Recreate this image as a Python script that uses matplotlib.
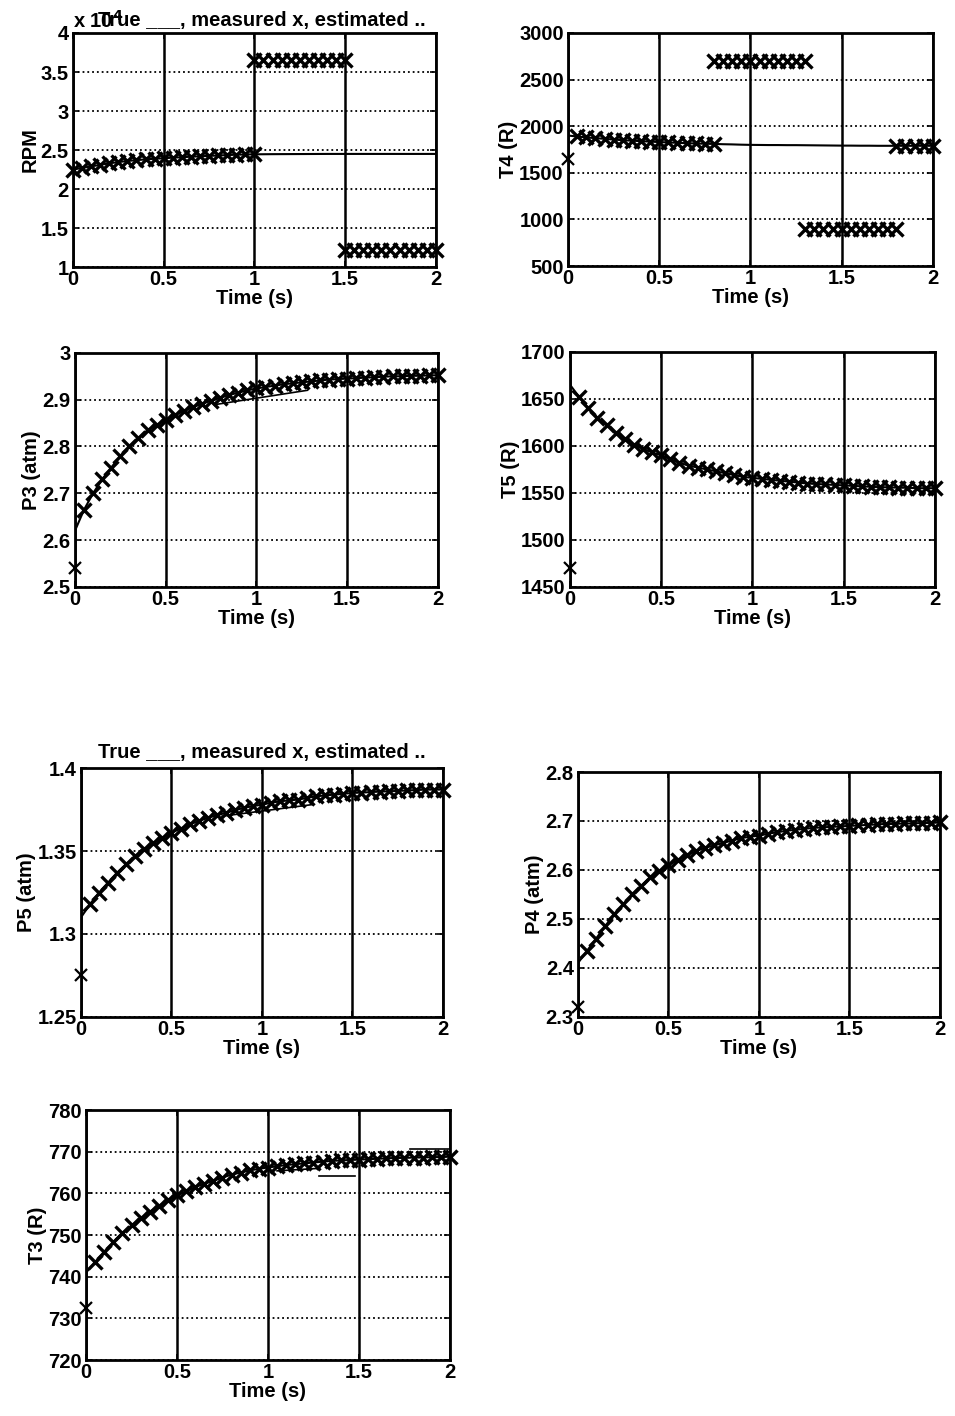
import matplotlib
matplotlib.use("Agg")
import matplotlib.pyplot as plt
from matplotlib.ticker import FuncFormatter

plt.rcParams["font.family"] = ["Liberation Sans", "DejaVu Sans"]
plt.rcParams["font.weight"] = "bold"
plt.rcParams["axes.labelweight"] = "bold"
plt.rcParams["font.size"] = 14.5

# sample times (s), read at 0.05 s steps
time = [0.0, 0.05, 0.1, 0.15, 0.2, 0.25, 0.3, 0.35, 0.4, 0.45, 0.5,
        0.55, 0.6, 0.65, 0.7, 0.75, 0.8, 0.85, 0.9, 0.95, 1.0,
        1.05, 1.1, 1.15, 1.2, 1.25, 1.3, 1.35, 1.4, 1.45, 1.5,
        1.55, 1.6, 1.65, 1.7, 1.75, 1.8, 1.85, 1.9, 1.95, 2.0]

# true values
rpm_true = [22500, 22700, 22900, 23100, 23300, 23450, 23600, 23700, 23800, 23880, 23950,
            24020, 24080, 24140, 24200, 24250, 24300, 24350, 24400, 24430, 24450,
            24460, 24470, 24475, 24480, 24485, 24490, 24495, 24500, 24500, 24500,
            24500, 24500, 24500, 24500, 24500, 24500, 24500, 24500, 24500, 24500]
t4_true = [1900, 1890, 1880, 1872, 1865, 1857, 1850, 1845, 1840, 1835, 1830,
           1826, 1822, 1818, 1815, 1812, 1810, 1807, 1805, 1802, 1800,
           1799, 1798, 1798, 1797, 1797, 1796, 1795, 1794, 1793, 1792,
           1792, 1791, 1791, 1790, 1790, 1790, 1790, 1790, 1790, 1790]
p3_true = [2.620, 2.665, 2.700, 2.730, 2.755, 2.780, 2.800, 2.818, 2.835, 2.846, 2.857,
           2.867, 2.876, 2.884, 2.891, 2.898, 2.904, 2.910, 2.915, 2.920, 2.924,
           2.927, 2.930, 2.933, 2.935, 2.937, 2.939, 2.941, 2.943, 2.944, 2.945,
           2.946, 2.947, 2.948, 2.949, 2.950, 2.950, 2.951, 2.951, 2.952, 2.952]
t5_true = [1665, 1652, 1640, 1630, 1622, 1614, 1607, 1601, 1597, 1593, 1590,
           1586, 1582, 1579, 1577, 1575, 1573, 1571, 1569, 1567, 1566,
           1565, 1564, 1563, 1562, 1561, 1560, 1559.5, 1559, 1558.5, 1558,
           1557.5, 1557, 1556.5, 1556, 1556, 1555.5, 1555.5, 1555, 1555, 1555]
p5_true = [1.310, 1.318, 1.325, 1.331, 1.337, 1.342, 1.347, 1.351, 1.355, 1.358, 1.361,
           1.3635, 1.366, 1.368, 1.370, 1.3715, 1.373, 1.3745, 1.376, 1.377, 1.378,
           1.379, 1.380, 1.3805, 1.381, 1.382, 1.383, 1.3835, 1.384, 1.3845, 1.385,
           1.3852, 1.3855, 1.3858, 1.386, 1.3862, 1.3865, 1.3867, 1.387, 1.387, 1.387]
p4_true = [2.410, 2.435, 2.460, 2.485, 2.510, 2.530, 2.550, 2.568, 2.585, 2.598, 2.610,
           2.620, 2.630, 2.638, 2.645, 2.650, 2.655, 2.660, 2.665, 2.668, 2.670,
           2.674, 2.677, 2.680, 2.682, 2.684, 2.686, 2.687, 2.688, 2.689, 2.690,
           2.691, 2.692, 2.693, 2.694, 2.694, 2.695, 2.695, 2.696, 2.696, 2.697]
t3_true = [741, 743.5, 746, 748.3, 750.5, 752.3, 754, 755.6, 757, 758.3, 759.5,
           760.5, 761.5, 762.3, 763, 763.8, 764.5, 765, 765.5, 765.9, 766.2,
           766.5, 766.8, 767, 767.2, 767.4, 767.6, 767.8, 767.9, 768, 768.1,
           768.2, 768.3, 768.4, 768.5, 768.5, 768.6, 768.6, 768.7, 768.7, 768.8]

# measured first samples (t = 0), off the curve
p3_meas0 = 2.54
t5_meas0 = 1470
p5_meas0 = 1.275
p4_meas0 = 2.32
t3_meas0 = 732.5
t4_meas0 = 1650

# sensor fault segments (measured)
rpm_fault_hi_t = [1.0, 1.05, 1.1, 1.15, 1.2, 1.25, 1.3, 1.35, 1.4, 1.45, 1.5]
rpm_fault_hi = [36500] * 11
rpm_fault_lo_t = [1.5, 1.55, 1.6, 1.65, 1.7, 1.75, 1.8, 1.85, 1.9, 1.95, 2.0]
rpm_fault_lo = [12200] * 11
t4_fault_hi_t = [0.8, 0.85, 0.9, 0.95, 1.0, 1.05, 1.1, 1.15, 1.2, 1.25, 1.3]
t4_fault_hi = [2700] * 11
t4_fault_lo_t = [1.3, 1.35, 1.4, 1.45, 1.5, 1.55, 1.6, 1.65, 1.7, 1.75, 1.8]
t4_fault_lo = [900] * 11

# estimate deviations that show as thin segments
p3_est_t = [0.78, 1.28]
p3_est = [2.89, 2.92]
p5_est_t = [0.78, 1.28]
p5_est = [1.371, 1.378]
t3_est_segs = [([1.05, 1.28], [765.4, 766.0]),
               ([1.28, 1.48], [764.2, 764.2]),
               ([1.78, 2.0], [770.6, 770.6])]

title_txt = "True ___, measured x, estimated .."
MK = dict(linestyle="none", marker="x", color="k", markersize=10,
          markeredgewidth=2.4, clip_on=False)
MK0 = dict(linestyle="none", marker="x", color="k", markersize=8,
           markeredgewidth=1.6, clip_on=False)


def style(ax, ylim, yticks, ylabel):
    ax.set_xlim(0, 2)
    ax.set_ylim(*ylim)
    ax.set_xticks([0, 0.5, 1, 1.5, 2])
    ax.set_yticks(yticks)
    ax.xaxis.set_major_formatter(FuncFormatter(lambda v, p: "%g" % v))
    ax.yaxis.set_major_formatter(FuncFormatter(lambda v, p: "%g" % v))
    ax.set_xlabel("Time (s)", labelpad=0)
    ax.set_ylabel(ylabel, labelpad=1)
    ax.grid(axis="x", linestyle="-", color="k", linewidth=1.8)
    ax.grid(axis="y", linestyle=":", color="k", linewidth=1.3)
    ax.tick_params(direction="in", length=4, width=1.2, top=True, right=True)
    ax.tick_params(axis="x", pad=2)
    ax.tick_params(axis="y", pad=3)
    for s in ax.spines.values():
        s.set_linewidth(2)
    ax.set_axisbelow(True)


fig = plt.figure(figsize=(9.55, 14.16), dpi=100)

# RPM
ax = fig.add_axes([0.0764, 0.8114, 0.380, 0.1653])
ax.plot(time, rpm_true, color="k", lw=1.5)
ax.plot(time[:21], rpm_true[:21], **MK)
ax.plot(rpm_fault_hi_t, rpm_fault_hi, **MK)
ax.plot(rpm_fault_lo_t, rpm_fault_lo, **MK)
style(ax, (10000, 40000), [10000, 15000, 20000, 25000, 30000, 35000, 40000], "RPM")
ax.yaxis.set_major_formatter(FuncFormatter(lambda v, p: "%g" % (v / 1e4)))
ax.text(0.0, 1.005, "x 10$^4$", transform=ax.transAxes, ha="left", va="bottom",
        fontsize=14.5, fontweight="bold")
ax.text(0.52, 1.012, title_txt, transform=ax.transAxes, ha="center", va="bottom",
        fontsize=14.5, fontweight="bold")

# T4
ax = fig.add_axes([0.5948, 0.8121, 0.382, 0.1646])
ax.plot(time, t4_true, color="k", lw=1.5)
ax.plot([0.0], [t4_meas0], **MK0)
ax.plot(time[1:17], t4_true[1:17], **MK)
ax.plot(t4_fault_hi_t, t4_fault_hi, **MK)
ax.plot(t4_fault_lo_t, t4_fault_lo, **MK)
ax.plot(time[36:], t4_true[36:], **MK)
style(ax, (500, 3000), [500, 1000, 1500, 2000, 2500, 3000], "T4 (R)")

# P3
ax = fig.add_axes([0.0785, 0.5855, 0.380, 0.1653])
ax.plot(time, p3_true, color="k", lw=1.5)
ax.plot([0.0], [p3_meas0], **MK0)
ax.plot(time[1:], p3_true[1:], **MK)
ax.plot(p3_est_t, p3_est, color="k", lw=1.2)
style(ax, (2.5, 3.0), [2.5, 2.6, 2.7, 2.8, 2.9, 3.0], "P3 (atm)")

# T5
ax = fig.add_axes([0.5969, 0.5855, 0.382, 0.166])
ax.plot(time, t5_true, color="k", lw=1.5)
ax.plot([0.0], [t5_meas0], **MK0)
ax.plot(time[1:], t5_true[1:], **MK)
style(ax, (1450, 1700), [1450, 1500, 1550, 1600, 1650, 1700], "T5 (R)")

# P5
ax = fig.add_axes([0.0848, 0.2818, 0.379, 0.1758])
ax.plot(time, p5_true, color="k", lw=1.5)
ax.plot([0.0], [p5_meas0], **MK0)
ax.plot(time[1:], p5_true[1:], **MK)
ax.plot(p5_est_t, p5_est, color="k", lw=1.2)
style(ax, (1.25, 1.4), [1.25, 1.3, 1.35, 1.4], "P5 (atm)")
ax.set_title(title_txt, fontsize=14.5, fontweight="bold", pad=7)

# P4
ax = fig.add_axes([0.6052, 0.2818, 0.379, 0.173])
ax.plot(time, p4_true, color="k", lw=1.5)
ax.plot([0.0], [p4_meas0], **MK0)
ax.plot(time[1:], p4_true[1:], **MK)
style(ax, (2.3, 2.8), [2.3, 2.4, 2.5, 2.6, 2.7, 2.8], "P4 (atm)")

# T3
ax = fig.add_axes([0.0901, 0.0395, 0.381, 0.1766])
ax.plot(time, t3_true, color="k", lw=1.5)
ax.plot([0.0], [t3_meas0], **MK0)
ax.plot(time[1:], t3_true[1:], **MK)
for st, sy in t3_est_segs:
    ax.plot(st, sy, color="k", lw=1.2)
style(ax, (720, 780), [720, 730, 740, 750, 760, 770, 780], "T3 (R)")

fig.savefig("out.png", dpi=100)
